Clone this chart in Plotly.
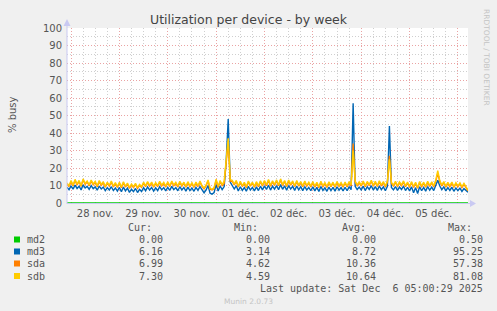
import pandas as pd
import plotly.graph_objects as go

# ---------------- data (hourly, from 27 nov 22:00 to 06 déc 05:00) ----------------
start_time = "2025-11-27 22:00"
end_time = "2025-12-06 05:00"

md2 = [0.0] * 2 + [
    0, 0, 0, 0, 0, 0, 0, 0, 0, 0, 0, 0, 0, 0, 0, 0, 0, 0, 0, 0, 0, 0, 0, 0,
    0, 0, 0, 0, 0, 0, 0, 0, 0, 0, 0, 0, 0, 0, 0, 0, 0, 0, 0, 0, 0, 0, 0, 0,
    0, 0, 0, 0, 0, 0, 0, 0, 0, 0, 0, 0, 0, 0, 0, 0, 0, 0, 0, 0, 0, 0, 0, 0,
    0, 0, 0, 0, 0, 0, 0, 0, 0, 0, 0, 0, 0, 0, 0, 0, 0, 0, 0, 0, 0, 0, 0, 0,
    0, 0, 0, 0, 0, 0, 0, 0, 0, 0, 0, 0, 0, 0, 0, 0, 0, 0, 0, 0, 0, 0, 0, 0,
    0, 0, 0, 0, 0, 0, 0, 0, 0, 0, 0, 0, 0, 0, 0, 0, 0, 0, 0, 0, 0, 0, 0, 0,
    0, 0, 0, 0, 0, 0, 0, 0, 0, 0, 0, 0, 0, 0, 0, 0, 0, 0, 0, 0, 0, 0, 0, 0,
    0, 0, 0, 0, 0, 0, 0, 0, 0, 0, 0, 0, 0, 0, 0, 0, 0, 0, 0, 0, 0, 0, 0, 0,
    0, 0, 0, 0, 0, 0,
]

md3 = [
    9.0, 7.6,
    9.8, 7.9, 10.2, 8.3, 9.6, 7.5, 10.4, 8.6, 9.5, 7.8, 9.9, 8.2, 9.2, 7.3, 9.7, 8.0, 9.1, 7.0, 8.8, 7.4, 9.3, 7.1, 8.6, 6.8,
    8.9, 6.4, 9.1, 6.9, 8.5, 6.1, 7.9, 6.5, 8.3, 6.0, 7.8, 6.6, 8.8, 7.0, 9.2, 7.4, 8.9, 6.8, 8.7, 7.1, 9.3, 7.5, 8.8, 6.9,
    9.0, 7.2, 9.5, 7.6, 8.8, 7.0, 9.3, 7.4, 8.9, 6.8, 9.1, 7.1, 8.6, 6.7, 8.9, 7.2, 9.4, 7.3, 5.9, 7.4, 10.0, 5.6, 5.1, 6.0,
    10.5, 6.9, 9.7, 7.6, 9.4, 24.0, 48.0, 12.0, 10.2, 8.0, 9.8, 6.9, 9.3, 7.2, 8.8, 6.7, 9.5, 7.4, 8.9, 6.9, 9.2, 7.1, 9.6, 7.5,
    9.8, 7.7, 10.2, 7.4, 9.6, 7.9, 10.0, 7.6, 10.5, 7.8, 9.8, 7.3, 10.0, 8.0, 9.5, 7.2, 9.7, 7.5, 9.3, 7.1, 9.4, 7.4, 8.9, 7.0,
    9.2, 6.9, 8.9, 6.6, 9.4, 7.2, 8.7, 6.7, 9.1, 7.1, 9.0, 6.8, 9.3, 7.3, 8.8, 6.9, 9.0, 7.0, 9.2, 7.6, 57.0, 9.5, 7.7, 9.1,
    7.5, 9.6, 7.1, 9.3, 7.8, 9.9, 7.4, 9.4, 7.2, 9.7, 7.6, 9.2, 7.0, 9.5, 44.0, 8.9, 7.5, 9.4, 7.2, 9.1, 7.7, 9.6, 7.1, 9.0,
    6.9, 9.2, 5.8, 8.8, 5.4, 9.3, 7.0, 8.9, 6.8, 9.4, 7.3, 9.1, 7.1, 9.9, 13.0, 9.7, 7.6, 9.2, 6.9, 8.8, 7.2, 9.0, 6.7, 8.6,
    7.1, 8.5, 6.6, 8.2, 6.9, 6.16,
]

sda = [
    10.9, 9.4,
    12.2, 9.8, 12.9, 10.3, 12.3, 9.5, 13.1, 10.7, 12.0, 9.9, 12.5, 10.4, 11.8, 9.3, 12.2, 10.1, 11.6, 9.0, 11.3, 9.6, 11.9, 9.2, 11.0, 8.9,
    11.2, 8.7, 11.5, 9.1, 10.8, 8.4, 10.2, 8.8, 10.6, 8.3, 10.0, 8.9, 11.3, 9.3, 11.7, 9.6, 11.4, 9.0, 11.1, 9.4, 11.8, 9.7, 11.2, 9.1,
    11.5, 9.4, 12.0, 9.8, 11.2, 9.2, 11.8, 9.6, 11.3, 9.0, 11.6, 9.3, 11.0, 8.9, 11.4, 9.4, 11.9, 9.5, 8.1, 9.7, 12.6, 7.9, 7.4, 8.3,
    13.0, 9.0, 12.2, 9.9, 11.0, 22.0, 35.0, 12.4, 12.4, 10.3, 12.3, 9.1, 11.8, 9.4, 11.2, 8.8, 12.0, 9.6, 11.3, 9.0, 11.6, 9.3, 12.1, 9.7,
    12.3, 9.9, 12.8, 9.6, 12.1, 10.1, 12.6, 9.8, 13.2, 10.0, 12.3, 9.5, 12.5, 10.2, 12.0, 9.4, 12.2, 9.7, 11.7, 9.3, 11.9, 9.6, 11.3, 9.2,
    11.6, 9.1, 11.2, 8.8, 11.8, 9.4, 11.0, 8.9, 11.5, 9.3, 11.3, 9.0, 11.7, 9.5, 11.1, 9.1, 11.4, 9.2, 11.6, 9.8, 34.0, 12.0, 9.9, 11.5,
    9.7, 12.0, 9.3, 11.7, 10.0, 12.4, 9.6, 11.8, 9.4, 12.1, 9.8, 11.6, 9.2, 11.9, 27.0, 11.2, 9.7, 11.8, 9.4, 11.5, 9.9, 12.0, 9.3, 11.4,
    9.1, 11.6, 8.9, 11.2, 8.4, 11.7, 9.2, 11.3, 9.0, 11.8, 9.5, 11.5, 9.3, 12.4, 17.0, 12.2, 9.8, 11.6, 9.1, 11.2, 9.4, 11.4, 8.9, 11.0,
    9.3, 10.9, 8.8, 10.6, 9.1, 6.99,
]

sdb = [
    11.5, 9.8,
    12.8, 10.2, 13.5, 10.8, 12.9, 9.9, 13.8, 11.2, 12.6, 10.4, 13.1, 10.9, 12.4, 9.8, 12.8, 10.6, 12.2, 9.5, 11.9, 10.1, 12.5, 9.7, 11.6, 9.4,
    11.8, 9.2, 12.1, 9.6, 11.4, 8.9, 10.8, 9.3, 11.2, 8.8, 10.6, 9.4, 11.9, 9.8, 12.3, 10.1, 12.0, 9.5, 11.7, 9.9, 12.4, 10.2, 11.8, 9.6,
    12.1, 9.9, 12.6, 10.3, 11.8, 9.7, 12.4, 10.1, 11.9, 9.5, 12.2, 9.8, 11.6, 9.4, 12.0, 9.9, 12.5, 10.0, 8.6, 10.2, 13.2, 8.4, 7.9, 8.8,
    13.6, 9.5, 12.8, 10.4, 12.6, 26.0, 37.0, 13.4, 13.0, 10.8, 12.9, 9.6, 12.4, 9.9, 11.8, 9.3, 12.6, 10.1, 11.9, 9.5, 12.2, 9.8, 12.7, 10.2,
    12.9, 10.4, 13.4, 10.1, 12.7, 10.6, 13.2, 10.3, 13.8, 10.5, 12.9, 10.0, 13.1, 10.7, 12.6, 9.9, 12.8, 10.2, 12.3, 9.8, 12.5, 10.1, 11.9, 9.7,
    12.2, 9.6, 11.8, 9.3, 12.4, 9.9, 11.6, 9.4, 12.1, 9.8, 11.9, 9.5, 12.3, 10.0, 11.7, 9.6, 12.0, 9.7, 12.2, 10.3, 30.0, 12.6, 10.4, 12.1,
    10.2, 12.6, 9.8, 12.3, 10.5, 13.0, 10.1, 12.4, 9.9, 12.7, 10.3, 12.2, 9.7, 12.5, 25.0, 11.8, 10.2, 12.4, 9.9, 12.1, 10.4, 12.6, 9.8, 12.0,
    9.6, 12.2, 9.4, 11.8, 8.9, 12.3, 9.7, 11.9, 9.5, 12.4, 10.0, 12.1, 9.8, 13.0, 18.5, 12.8, 10.3, 12.2, 9.6, 11.8, 9.9, 12.0, 9.4, 11.6,
    9.8, 11.5, 9.3, 11.2, 9.6, 7.30,
]

series_names = ["md2", "md3", "sda", "sdb"]
series_values = [md2, md3, sda, sdb]
series_colors = ["#00cc00", "#0066b3", "#ff8000", "#ffcc00"]

cur_vals = ["0.00", "6.16", "6.99", "7.30"]
min_vals = ["0.00", "3.14", "4.62", "4.59"]
avg_vals = ["0.00", "8.72", "10.36", "10.64"]
max_vals = ["0.50", "95.25", "57.38", "81.08"]

day_labels = ["28 nov.", "29 nov.", "30 nov.", "01 déc.", "02 déc.", "03 déc.", "04 déc.", "05 déc."]
day_label_times = pd.date_range("2025-11-28 12:00", periods=len(day_labels), freq="D")

title_text = "Utilization per device - by week"
y_title = "% busy"
last_update = "Last update: Sat Dec  6 05:00:29 2025"
munin_version = "Munin 2.0.73"
side_text = "RRDTOOL / TOBI OETIKER"

times = pd.date_range(start_time, periods=len(md3), freq="h")

# ---------------- layout geometry ----------------
W_FIG, H_FIG = 497, 311
L, R = 67, 468          # plot area left/right px
T, B = 28, 204          # plot area top/bottom px
PW, PH = R - L, B - T
Y_MIN = -(B - 203) / 1.75
Y_MAX = 100


def px(x):
    return (x - L) / PW


def py(y):
    return (B - y) / PH


fig = go.Figure()
for name, vals, col in zip(series_names, series_values, series_colors):
    fig.add_trace(go.Scatter(x=times, y=vals, mode="lines", name=name,
                             line=dict(color=col, width=1.4), showlegend=False,
                             hoverinfo="skip"))

# invisible trace to carry the label axis
fig.add_trace(go.Scatter(x=[times[0], times[-1]], y=[None, None], xaxis="x2",
                         showlegend=False, hoverinfo="skip"))

major_grid = "#eaa3a3"
minor_grid = "#cfcfcf"
axis_col = "#c9c9f2"
text_col = "#555555"

fig.update_layout(
    width=W_FIG, height=H_FIG,
    margin=dict(l=L, r=W_FIG - R, t=T, b=H_FIG - B, pad=0),
    paper_bgcolor="#f0f0f0", plot_bgcolor="#ffffff",
    font=dict(family="DejaVu Sans", size=10, color=text_col),
    xaxis=dict(
        type="date", range=[start_time, end_time],
        tick0="2025-11-28 00:00", dtick=86400000,
        showticklabels=False, ticks="",
        showgrid=True, gridcolor=major_grid, gridwidth=1, griddash="1px,2px",
        minor=dict(tick0="2025-11-28 00:00", dtick=6 * 3600000, showgrid=True,
                   gridcolor=minor_grid, gridwidth=1, griddash="1px,2px", ticks=""),
        zeroline=False, showline=False,
    ),
    xaxis2=dict(
        type="date", range=[start_time, end_time], overlaying="x", side="bottom",
        tickmode="array", tickvals=list(day_label_times), ticktext=day_labels,
        showgrid=False, ticks="", showline=False, zeroline=False,
        tickfont=dict(family="DejaVu Sans", size=10, color=text_col),
        ticklabelstandoff=2,
    ),
    yaxis=dict(
        range=[Y_MIN, Y_MAX], tick0=0, dtick=10,
        showgrid=True, gridcolor=major_grid, gridwidth=1, griddash="1px,2px",
        minor=dict(tick0=0, dtick=5, showgrid=True, gridcolor=minor_grid,
                   gridwidth=1, griddash="1px,2px", ticks=""),
        ticks="", zeroline=False, showline=False,
        tickfont=dict(family="DejaVu Sans", size=10, color=text_col),
        ticklabelstandoff=4,
    ),
)

shapes = []
# axis lines with arrows
shapes.append(dict(type="line", xref="paper", yref="paper", x0=px(67), x1=px(67),
                   y0=py(204), y1=py(23), line=dict(color=axis_col, width=1)))
shapes.append(dict(type="line", xref="paper", yref="paper", x0=px(67), x1=px(472),
                   y0=py(203.5), y1=py(203.5), line=dict(color=axis_col, width=1)))
shapes.append(dict(type="path", xref="paper", yref="paper",
                   path=f"M {px(63.5)} {py(26)} L {px(70.5)} {py(26)} L {px(67)} {py(19)} Z",
                   fillcolor=axis_col, line=dict(width=0)))
shapes.append(dict(type="path", xref="paper", yref="paper",
                   path=f"M {px(470)} {py(200)} L {px(470)} {py(207)} L {px(476)} {py(203.5)} Z",
                   fillcolor=axis_col, line=dict(width=0)))

# legend colour squares
row_y = [239.5, 251.5, 263.5, 276]
for col, yy in zip(series_colors, row_y):
    shapes.append(dict(type="rect", xref="paper", yref="paper",
                       x0=px(14), x1=px(20), y0=py(yy + 3), y1=py(yy - 3),
                       fillcolor=col, line=dict(width=0)))
fig.update_layout(shapes=shapes)

mono = dict(family="DejaVu Sans Mono", size=10, color=text_col)
ann = []


def add_text(x, y, text, anchor="left", font=None, **kw):
    ann.append(dict(x=px(x), y=py(y), xref="paper", yref="paper", text=text,
                    showarrow=False, xanchor=anchor, yanchor="middle",
                    font=font or mono, borderpad=0, **kw))


# title
add_text(248.5, 19, title_text, anchor="center",
         font=dict(family="DejaVu Sans", size=12.5, color="#444444"))
# y title
add_text(13, 115, y_title, anchor="center",
         font=dict(family="DejaVu Sans", size=10, color=text_col), textangle=-90)
# side text
add_text(487, 57, side_text, anchor="center",
         font=dict(family="DejaVu Sans", size=7.5, color="#c4c4c4"), textangle=90)

# legend table
add_text(127, 228, "Cur:")
add_text(233, 228, "Min:")
add_text(341, 228, "Avg:")
add_text(447, 228, "Max:")
for i, yy in enumerate(row_y):
    add_text(26, yy, series_names[i])
    add_text(164, yy, cur_vals[i], anchor="right")
    add_text(271, yy, min_vals[i], anchor="right")
    add_text(377, yy, avg_vals[i], anchor="right")
    add_text(484, yy, max_vals[i], anchor="right")
add_text(484, 288, last_update, anchor="right")
add_text(248.5, 301, munin_version, anchor="center",
         font=dict(family="DejaVu Sans", size=7.5, color="#c4c4c4"))

fig.update_layout(annotations=ann)

fig.write_html("out.html")
